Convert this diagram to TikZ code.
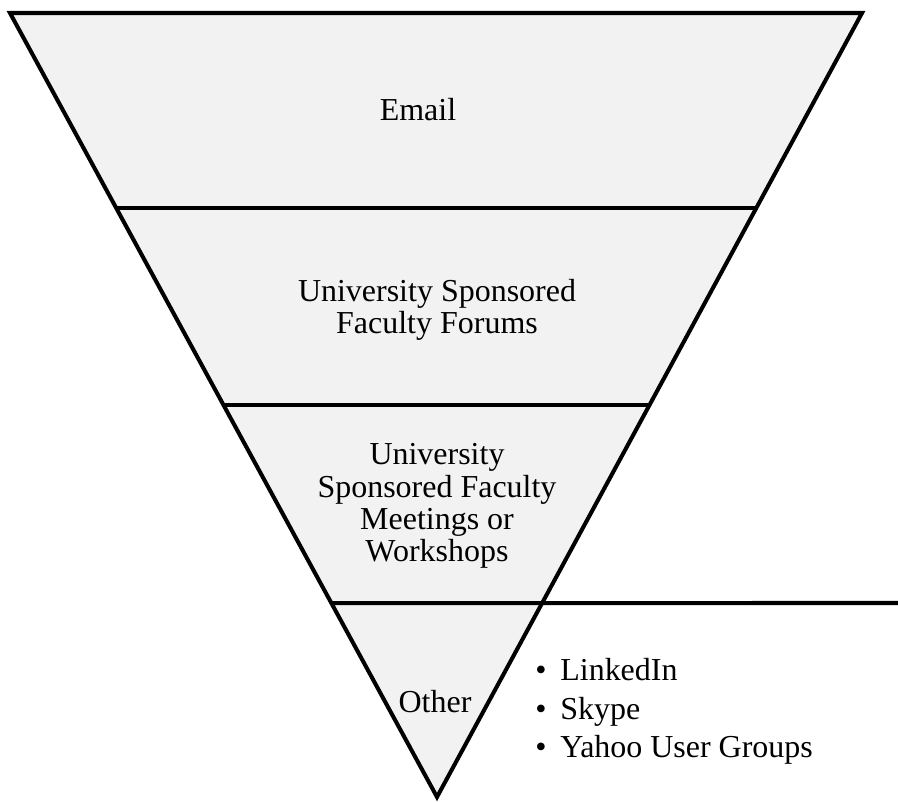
\documentclass[tikz,border=0pt]{standalone}
\usepackage{fontspec}
\setmainfont{Liberation Serif}
\usetikzlibrary{calc}

\begin{document}
\begin{tikzpicture}[
        x=0.02cm, y=-0.02cm,
        band/.style={fill=black!5, draw, line width=2.3pt, line join=miter},
        divider/.style={draw, line width=2.3pt},
        label/.style={font=\fontsize{18.2}{18.4}\selectfont, align=center, inner sep=0pt},
        listtext/.style={font=\fontsize{18.2}{21.9}\selectfont, align=left, inner sep=0pt, anchor=north west}
    ]
        \useasboundingbox (0,0) rectangle (898,801);

        \coordinate (tl) at (10,13);
        \coordinate (tr) at (862,13);
        \coordinate (apex) at (437,797);
        \coordinate (l1) at ($(tl)!0.249!(apex)$);
        \coordinate (r1) at ($(tr)!0.249!(apex)$);
        \coordinate (l2) at ($(tl)!0.5!(apex)$);
        \coordinate (r2) at ($(tr)!0.5!(apex)$);
        \coordinate (l3) at ($(tl)!0.7526!(apex)$);
        \coordinate (r3) at ($(tr)!0.7526!(apex)$);
        \coordinate (edge) at (898,603);

        \path[band] (tl) -- (tr) -- (apex) -- cycle;
        \draw[divider] (l1) -- (r1);
        \draw[divider] (l2) -- (r2);
        \draw[divider] (l3) -- (edge);

        \node[label, anchor=base] (email) at (418,120) {Email};
        \node[label] (forums) at (437,310) {University Sponsored\\Faculty Forums};
        \node[label] (meetings) at (437,506) {University\\Sponsored Faculty\\Meetings or\\Workshops};
        \node[label, anchor=base] (other) at (435,712) {Other};
        \node[listtext] (others) at (535,658) {%
            \makebox[25\dimexpr0.5691pt\relax][l]{\textbullet}LinkedIn\\
            \makebox[25\dimexpr0.5691pt\relax][l]{\textbullet}Skype\\
            \makebox[25\dimexpr0.5691pt\relax][l]{\textbullet}Yahoo User Groups};
    \end{tikzpicture}
\end{document}
